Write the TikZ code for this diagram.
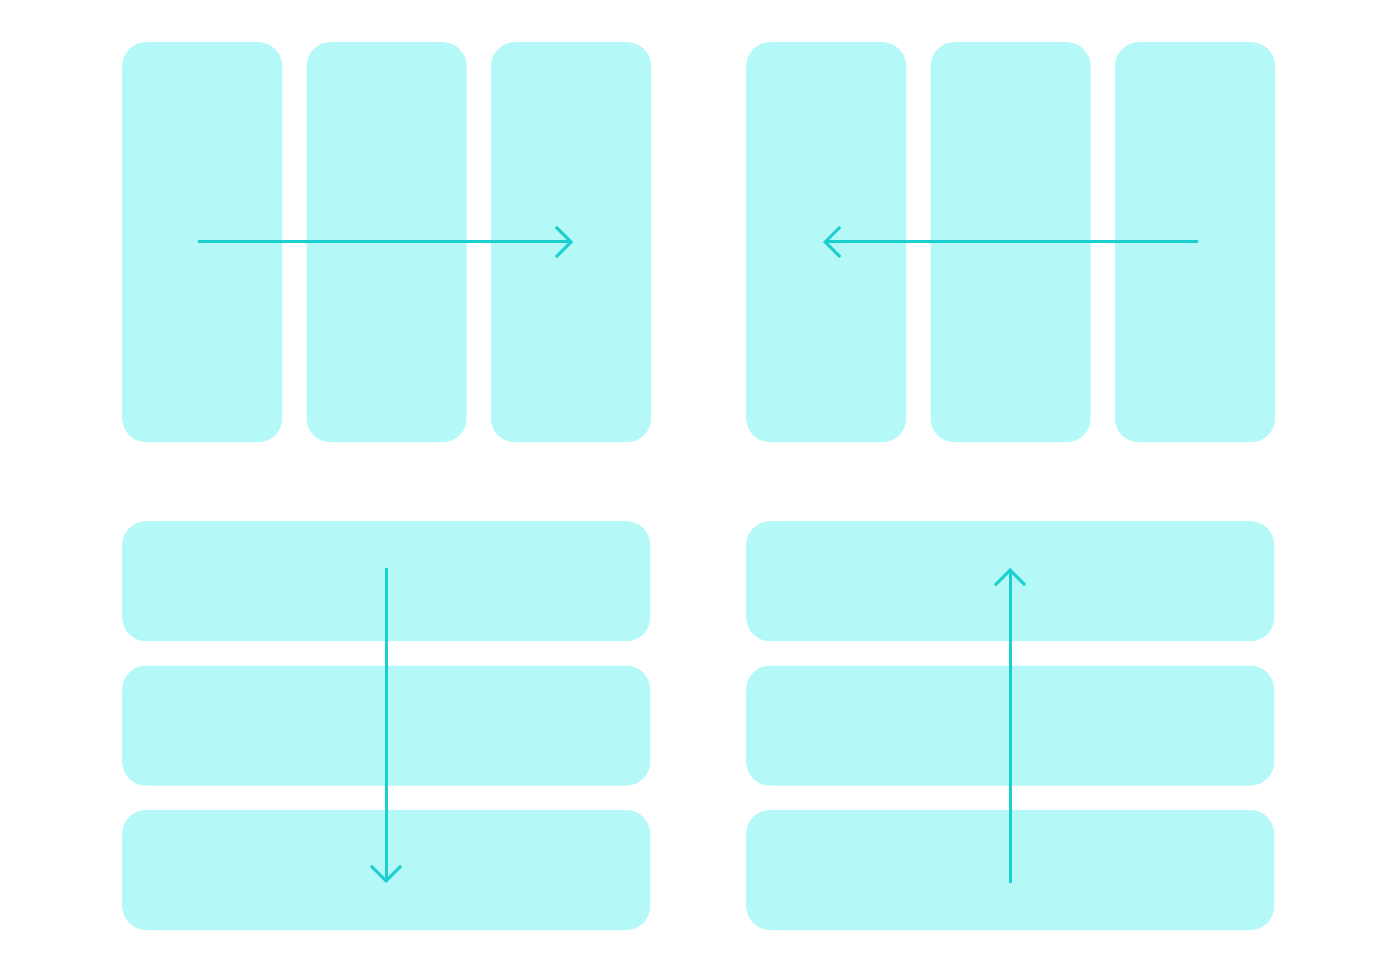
\documentclass[tikz,border=0pt]{standalone}
\usepackage{tikz}
\usetikzlibrary{arrows.meta,positioning}
\definecolor{panel}{HTML}{B4F8F8}
\definecolor{flowline}{HTML}{1CCFCF}

\begin{document}
\begin{tikzpicture}[x=1pt,y=1pt,>={Straight Barb[length=15pt,width=30pt]},node distance=24pt]
  \useasboundingbox (0,0) rectangle (1385,-973);
\tikzset{col/.style={fill=panel,rounded corners=24pt,minimum width=160pt,minimum height=400pt,inner sep=0pt}}
\tikzset{row/.style={fill=panel,rounded corners=24pt,minimum width=528pt,minimum height=120pt,inner sep=0pt}}
\tikzset{flow/.style={->,draw=flowline,line width=3pt}}

  % columns, left to right
  \node[col,anchor=north west] (L1) at (122,-42) {};
  \node[col]          (L2) [right =of L1]    {};
  \node[col]          (L3) [right =of L2]    {};
  % columns, right to left
  \node[col,anchor=north west] (R1) at (746,-42) {};
  \node[col]          (R2) [right =of R1]    {};
  \node[col]          (R3) [right =of R2]    {};
  % rows, top to bottom
  \node[row,anchor=north west] (D1) at (122,-521) {};
  \node[row]          (D2) [below =of D1]    {};
  \node[row]          (D3) [below =of D2]    {};
  % rows, bottom to top
  \node[row,anchor=north west] (U1) at (746,-521) {};
  \node[row]          (U2) [below =of U1]    {};
  \node[row]          (U3) [below =of U2]    {};

  \coordinate (ls) at (198,-242);
  \coordinate (le) at (573,-242);
  \coordinate (rs) at (1198,-242);
  \coordinate (re) at (823,-242);
  \coordinate (ds) at (386,-568);
  \coordinate (de) at (386,-883);
  \coordinate (us) at (1010,-883);
  \coordinate (ue) at (1010,-568);

\path (ls)     edge [flow] (le)
      (rs)     edge [flow] (re)
      (ds)     edge [flow] (de)
      (us)     edge [flow] (ue);
\end{tikzpicture}
\end{document}
